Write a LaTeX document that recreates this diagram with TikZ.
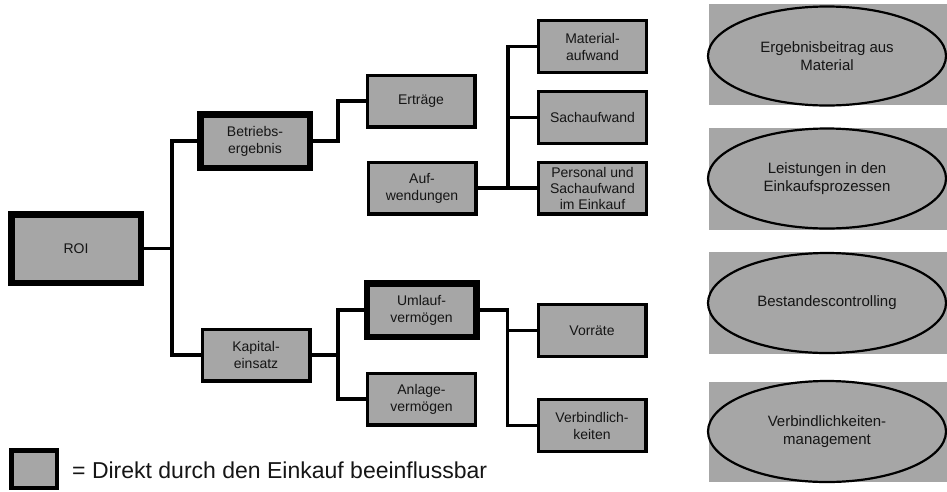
\documentclass[tikz,border=0pt]{standalone}
\usepackage{fontspec}
\setmainfont{Liberation Sans}
\usetikzlibrary{shapes.geometric}
\definecolor{boxgray}{HTML}{A6A6A6}
\definecolor{txt}{HTML}{151515}
\begin{document}
\begin{tikzpicture}[x=1pt,y=-1pt,
  box/.style={draw=black, line width=3.4pt, fill=boxgray, minimum width=107.6pt, minimum height=51.6pt,
    inner sep=0pt, align=center, text=txt, font=\fontsize{14}{17}\selectfont},
  thickbox/.style={box, line width=6.5pt, minimum width=109.5pt, minimum height=53.5pt},
  conn/.style={line width=3.4pt},
  graybg/.style={fill=boxgray, minimum width=238pt, inner sep=0pt},
  ell/.style={ellipse, draw=black, line width=2.2pt, fill=boxgray, minimum width=238pt, inner sep=0pt,
    align=center, text=txt, font=\fontsize{15}{18}\selectfont}]
\useasboundingbox (0,0) rectangle (947,491);

% left tree
\node[thickbox, minimum width=129.5pt, minimum height=68.5pt] (roi) at (76,248.5) {ROI};
\node[thickbox] (bet) at (255,141) {Betriebs-\\ergebnis};
\node[box] (kap) at (256,355) {Kapital-\\einsatz};
\node[box] (ert) at (421,101) {Ertr\"age};
\node[box] (auf) at (422,188) {Auf-\\wendungen};
\node[box] (mat) at (592.5,46.5) {Material-\\aufwand};
\node[box] (sach) at (592.5,117.5) {Sachaufwand};
\node[box, font=\fontsize{14}{16}\selectfont] (pers) at (592.5,188) {Personal und\\Sachaufwand\\im Einkauf};
\node[thickbox] (uml) at (421.5,310) {Umlauf-\\verm\"ogen};
\node[box] (anl) at (421.5,399) {Anlage-\\verm\"ogen};
\node[box] (vor) at (592,330.5) {Vorr\"ate};
\node[box] (verb) at (592,425.5) {Verbindlich-\\keiten};

\coordinate (j1) at (172,0);
\coordinate (j2) at (338,0);
\coordinate (j3) at (508,0);
\coordinate (j4) at (338,0);
\coordinate (j5) at (507.5,0);

\draw[conn] (roi.east) -- (roi.east -| j1);
\draw[conn] (bet.west) -- (bet.west -| j1) -- (kap.west -| j1) -- (kap.west);
\draw[conn] (bet.east) -- (bet.east -| j2) -- (ert.west -| j2) -- (ert.west);
\draw[conn] (auf.east) -- (pers.west);
\draw[conn] (mat.west) -- (mat.west -| j3) -- (auf.east -| j3);
\draw[conn] (sach.west) -- (sach.west -| j3);
\draw[conn] (kap.east) -- (kap.east -| j4);
\draw[conn] (uml.west) -- (uml.west -| j4) -- (anl.west -| j4) -- (anl.west);
\draw[conn] (uml.east) -- (uml.east -| j5) -- (verb.west -| j5) -- (verb.west);
\draw[conn] (vor.west) -- (vor.west -| j5);

% right column
\node[graybg, minimum height=101pt] (r1) at (828,54.5) {};
\node[graybg, minimum height=102pt] (r2) at (828,178.5) {};
\node[graybg, minimum height=102pt] (r3) at (828,303) {};
\node[graybg, minimum height=100pt] (r4) at (828,432) {};
\node[ell, minimum height=99pt] (e1) at (827,56) {Ergebnisbeitrag aus\\Material};
\node[ell, minimum height=100pt] (e2) at (827,178.5) {Leistungen in den\\Einkaufsprozessen};
\node[ell, minimum height=100pt] (e3) at (827,303) {Bestandescontrolling};
\node[ell, minimum height=101pt] (e4) at (827,431.5) {Verbindlichkeiten-\\management};

% legend
\node[draw=black, line width=4.5pt, fill=boxgray, minimum width=45.5pt, minimum height=37.5pt, inner sep=0pt] (leg) at (34,469) {};
\node[anchor=west, inner sep=0pt, text=txt, font=\fontsize{23}{27}\selectfont] (legt) at (72,470) {= Direkt durch den Einkauf beeinflussbar};
\end{tikzpicture}
\end{document}
